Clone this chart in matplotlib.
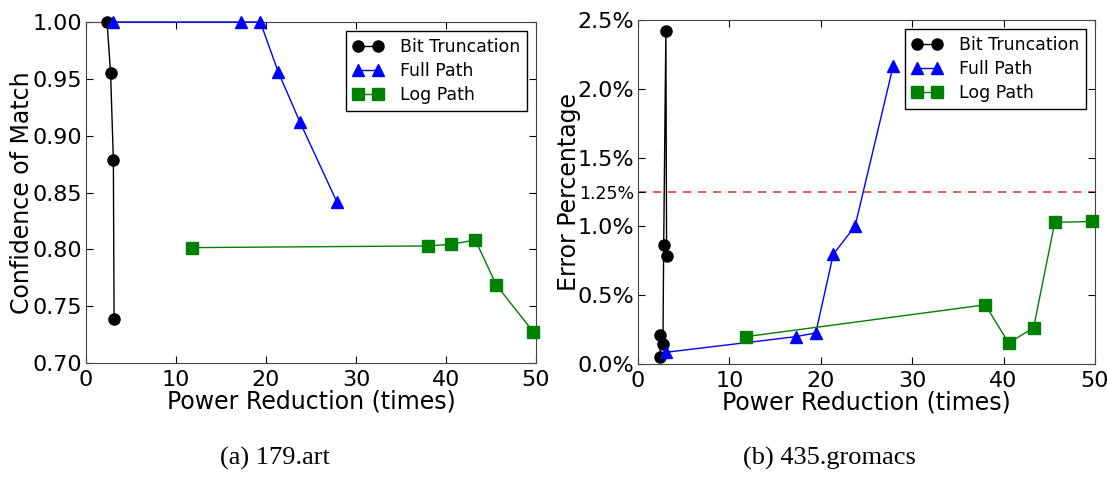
import matplotlib.pyplot as plt
import numpy as np

# (a) 179.art - confidence of match
art_bit_x = [2.34, 2.73, 3.04, 3.12]
art_bit_y = [1.000, 0.955, 0.879, 0.739]
art_full_x = [3.0, 17.26, 19.37, 21.36, 23.77, 27.86]
art_full_y = [1.000, 1.000, 1.000, 0.956, 0.912, 0.842]
art_log_x = [11.81, 38.0, 40.53, 43.26, 45.6, 49.7]
art_log_y = [0.8015, 0.803, 0.8044, 0.8082, 0.7685, 0.7274]

# (b) 435.gromacs - error percentage
gro_bit_x = [2.42, 2.46, 2.73, 2.81, 3.05, 3.13]
gro_bit_y = [0.054, 0.214, 0.146, 0.863, 2.422, 0.785]
gro_full_x = [3.05, 17.3, 19.45, 21.37, 23.75, 27.93]
gro_full_y = [0.085, 0.199, 0.226, 0.798, 1.002, 2.169]
gro_log_x = [11.84, 38.0, 40.55, 43.28, 45.6, 49.7]
gro_log_y = [0.199, 0.430, 0.153, 0.263, 1.029, 1.036]
threshold = 1.25

gro_yticks = [0.0, 0.5, 1.0, 1.25, 1.5, 2.0, 2.5]
gro_ylabels = ["0.0%", "0.5%", "1.0%", "1.25%", "1.5%", "2.0%", "2.5%"]

plt.rcParams['font.family'] = 'DejaVu Sans'
W, H = 1107, 484
fig = plt.figure(figsize=(W / 100, H / 100), dpi=100)

ax1 = fig.add_axes([86 / W, 1 - 363 / H, 450 / W, 341 / H])
ax2 = fig.add_axes([638 / W, 1 - 364 / H, 457 / W, 344 / H])


def series(ax, bx, by, fx, fy, lx, ly):
    ax.plot(bx, by, color='black', marker='o', markersize=8, lw=1, label='Bit Truncation', clip_on=False, zorder=3)
    ax.plot(fx, fy, color='blue', marker='^', markersize=8, lw=1, label='Full Path', clip_on=False, zorder=3)
    ax.plot(lx, ly, color='green', marker='s', markersize=8, lw=1, label='Log Path', clip_on=False, zorder=3)
    leg = ax.legend(loc='upper right', numpoints=2, fontsize=12.5, fancybox=False,
                    framealpha=1, handlelength=1.7, handletextpad=1.0,
                    labelspacing=0.35, borderaxespad=0.5)
    leg.get_frame().set_edgecolor('black')
    ax.set_xlim(0, 50)
    ax.set_xticks([0, 10, 20, 30, 40, 50])
    ax.tick_params(direction='in', top=True, right=True, labelsize=16, length=5)
    ax.tick_params(axis='y', pad=3)
    ax.tick_params(axis='x', pad=5)
    ax.set_xlabel('Power Reduction (times)', fontsize=17, labelpad=0)
    for s in ax.spines.values():
        s.set_color('#444444')


series(ax1, art_bit_x, art_bit_y, art_full_x, art_full_y, art_log_x, art_log_y)
ax1.set_ylim(0.70, 1.00)
ax1.set_yticks(np.arange(0.70, 1.001, 0.05))
ax1.set_yticklabels(["%.2f" % v for v in np.arange(0.70, 1.001, 0.05)])
ax1.set_ylabel('Confidence of Match', fontsize=17)
ax1.yaxis.set_label_coords(-0.115, 0.5)

series(ax2, gro_bit_x, gro_bit_y, gro_full_x, gro_full_y, gro_log_x, gro_log_y)
ax2.axhline(threshold, color='#e04040', ls='--', lw=1.2, dashes=(5, 4), zorder=1)
ax2.set_ylim(0, 2.5)
ax2.set_yticks(gro_yticks)
ax2.set_yticklabels(gro_ylabels)
for t in ax2.get_yticklabels():
    if t.get_text() == "1.25%":
        t.set_fontsize(12.5)
ax2.set_ylabel('Error Percentage', fontsize=17)
ax2.yaxis.set_label_coords(-0.125, 0.5)

fig.text(275 / W, 1 - 458 / H, '(a) 179.art', ha='center', va='center',
         fontsize=19, family='Liberation Serif')
fig.text(829 / W, 1 - 458 / H, '(b) 435.gromacs', ha='center', va='center',
         fontsize=19, family='Liberation Serif')

fig.savefig('out.png', dpi=100)
